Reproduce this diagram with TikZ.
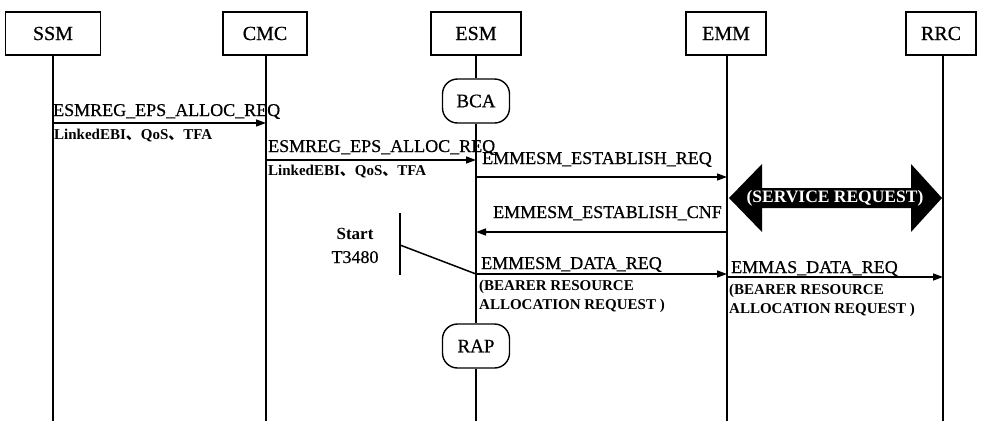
\documentclass[tikz,border=0pt]{standalone}
\usepackage{fontspec}
\setmainfont{Liberation Serif}
\newfontfamily\heavyserif[FakeBold=0.6]{Liberation Serif}
\newfontfamily\cjkfont{Noto Sans CJK SC}
\usetikzlibrary{arrows.meta}
% enumeration comma between the parameter names
\newcommand{\dunhao}{{\cjkfont\bfseries 、}}

\begin{document}
\begin{tikzpicture}[x=1pt,y=-1pt,
  objbox/.style={draw, line width=1.4pt, minimum width=#1, minimum height=43pt,
                 inner sep=0pt, font=\heavyserif\fontsize{20}{22}\selectfont},
  objbox/.default=88pt,
  statebox/.style={draw, line width=1.4pt, rounded corners=15pt, fill=white,
                   minimum width=67pt, minimum height=44pt, inner sep=0pt,
                   font=\heavyserif\fontsize{19}{21}\selectfont},
  life/.style={line width=1.5pt},
  msg/.style={line width=1.4pt, -{Triangle[length=10pt,width=7pt]}},
  lbl/.style={anchor=base west, inner sep=0pt, font=\heavyserif\fontsize{18}{20}\selectfont},
  lblr/.style={anchor=base east, inner sep=0pt, font=\heavyserif\fontsize{18}{20}\selectfont},
  sublbl/.style={anchor=base west, inner sep=0pt, font=\bfseries\fontsize{15}{17}\selectfont},
  timerlbl/.style={anchor=base, inner sep=0pt, font=\heavyserif\fontsize{18}{20}\selectfont}
]
\useasboundingbox (0,0) rectangle (986,421);

% entities
\node[objbox=95pt] (ssm) at (53,33.5) {SSM};
\node[objbox=84pt] (cmc) at (265,33.5) {CMC};
\node[objbox=90pt] (esm) at (476,33.5) {ESM};
\node[objbox=80pt] (emm) at (726,33.5) {EMM};
\node[objbox=70pt] (rrc) at (941,33.5) {RRC};

% states on the ESM lifeline
\node[statebox] (bca) at (476,101) {BCA};
\node[statebox] (rap) at (476,346) {RAP};

% message levels and the lower edge
\coordinate (bottom) at (0,421);
\coordinate (lv1) at (0,123);
\coordinate (lv2) at (0,160);
\coordinate (lv3) at (0,177);
\coordinate (lv4) at (0,232);
\coordinate (lv5) at (0,274);
\coordinate (lv6) at (0,277);

% lifelines
\draw[life] (ssm.south) -- (ssm |- bottom);
\draw[life] ([xshift=1pt]cmc.south) -- ([xshift=1pt]cmc.south |- bottom);
\draw[life] (esm.south) -- (bca.north);
\draw[life] (bca.south) -- (rap.north);
\draw[life] (rap.south) -- (rap |- bottom);
\draw[life] ([xshift=1pt]emm.south) -- ([xshift=1pt]emm.south |- bottom);
\draw[life] ([xshift=2pt]rrc.south) -- ([xshift=2pt]rrc.south |- bottom);

% messages
\draw[msg] (ssm |- lv1) -- ([xshift=1pt]cmc.south |- lv1);
\node[lbl] (m1) at (53,116) {ESMREG\_EPS\_ALLOC\_REQ};
\node[sublbl] (m1p) at (54,139) {LinkedEBI\dunhao QoS\dunhao TFA};

\draw[msg] ([xshift=1pt]cmc.south |- lv2) -- (esm |- lv2);
\node[lbl] (m2) at (268,152) {ESMREG\_EPS\_ALLOC\_REQ};
\node[sublbl] (m2p) at (268,175) {LinkedEBI\dunhao QoS\dunhao TFA};

\draw[msg] (esm |- lv3) -- ([xshift=1pt]emm.south |- lv3);
\node[lbl] (m3) at (482,164) {EMMESM\_ESTABLISH\_REQ};

\draw[msg] ([xshift=1pt]emm.south |- lv4) -- (esm |- lv4);
\node[lblr] (m4) at (722,218) {EMMESM\_ESTABLISH\_CNF};

\draw[msg] (esm |- lv5) -- ([xshift=1pt]emm.south |- lv5);
\node[lbl] (m5) at (481,269) {EMMESM\_DATA\_REQ};
\node[sublbl] (m5a) at (479,290) {(BEARER RESOURCE};
\node[sublbl] (m5b) at (479,309) {ALLOCATION REQUEST )};

\draw[msg] ([xshift=1pt]emm.south |- lv6) -- ([xshift=2pt]rrc.south |- lv6);
\node[lbl] (m6) at (731,273) {EMMAS\_DATA\_REQ};
\node[sublbl] (m6a) at (729,294) {(BEARER RESOURCE};
\node[sublbl] (m6b) at (729,313) {ALLOCATION REQUEST )};

% service request exchanged between EMM and RRC
\fill (729,198) -- (762,164) -- (762,188) -- (911,188) -- (911,164) -- (942,198)
      -- (911,232) -- (911,208) -- (762,208) -- (762,232) -- cycle;
\node[inner sep=0pt, text=white, font=\bfseries\fontsize{17.5}{19}\selectfont] (srq)
      at (835,198) {(SERVICE REQUEST)};

% timer T3480 started with the data request
\coordinate (tbartop) at (400,213);
\coordinate (tbarbot) at (400,275);
\coordinate (tknee) at (400,245);
\draw[life] (tbartop) -- (tbarbot);
\draw[life] (tknee) -- (esm |- lv5);
\node[timerlbl, font=\bfseries\fontsize{17}{19}\selectfont] (tstart) at (355,239) {Start};
\node[timerlbl] (tname) at (355,263) {T3480};
\end{tikzpicture}
\end{document}
